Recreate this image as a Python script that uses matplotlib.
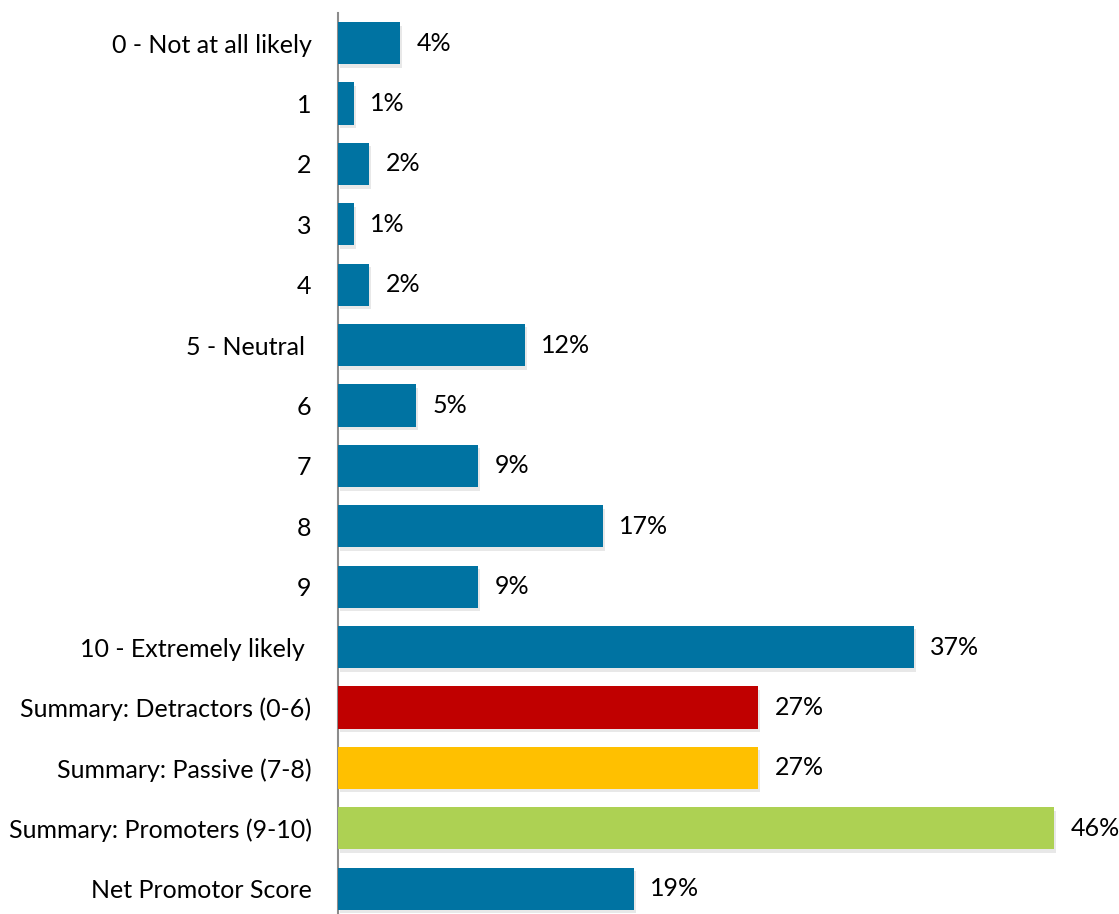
import matplotlib
matplotlib.use("Agg")
import matplotlib.pyplot as plt
import matplotlib.patheffects as pe

categories = [
    "0 - Not at all likely", "1", "2", "3", "4", "5 - Neutral ", "6", "7", "8", "9",
    "10 - Extremely likely ", "Summary: Detractors (0-6)", "Summary: Passive (7-8)",
    "Summary: Promoters (9-10)", "Net Promotor Score",
]
values = [4, 1, 2, 1, 2, 12, 5, 9, 17, 9, 37, 27, 27, 46, 19]

BLUE = "#0073A2"
colors = [BLUE] * 11 + ["#C00000", "#FFC000", "#ADD153", BLUE]

plt.rcParams["font.family"] = ["Lato", "DejaVu Sans"]

W, H = 1119, 914
fig = plt.figure(figsize=(W / 100, H / 100), dpi=100)
ax = fig.add_axes([338 / W, 0, 778 / W, (H - 13) / H])

ypos = list(range(len(categories)))
bars = ax.barh(ypos, values, height=0.7, color=colors, zorder=3)
for b in bars:
    b.set_path_effects([pe.SimplePatchShadow(offset=(1.5, -2.5), shadow_rgbFace="#808080", alpha=0.18),
                        pe.Normal()])

FS = 18
for y, v in zip(ypos, values):
    ax.annotate(f"{v}%", xy=(v, y), xytext=(12, 0), textcoords="offset points",
                ha="left", va="center", fontsize=FS, color="black")

ax.set_xlim(0, 50)
ax.set_ylim(14.42, -0.5)
ax.set_yticks(ypos)
ax.set_yticklabels(categories, fontsize=FS, color="black")
ax.tick_params(axis="y", length=0, pad=19)
ax.set_xticks([])
for s in ["top", "right", "bottom"]:
    ax.spines[s].set_visible(False)
ax.spines["left"].set_color("#8c8c8c")
ax.spines["left"].set_linewidth(1.5)

fig.savefig("out.png", dpi=100)
